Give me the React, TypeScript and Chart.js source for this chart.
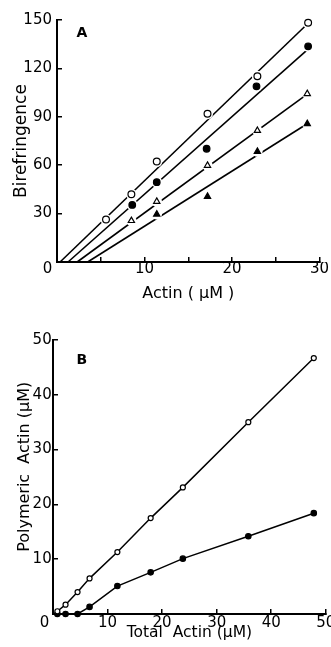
import React, { useEffect, useRef } from "react";
import { Chart, registerables } from "chart.js";

Chart.register(...registerables);

const FONT = "'DejaVu Sans', sans-serif";

// ---------- Panel A: Birefringence vs Actin ----------
const actinOpenCircle = [5.6, 8.5, 11.4, 17.2, 22.9, 28.7];
const birefOpenCircle = [26.3, 42.0, 62.3, 91.9, 115.1, 148.3];
const actinFilledCircle = [8.6, 11.4, 17.1, 22.8, 28.7];
const birefFilledCircle = [35.4, 49.5, 70.2, 108.9, 133.7];
const actinOpenTriangle = [8.5, 11.4, 17.2, 22.9, 28.6];
const birefOpenTriangle = [25.6, 37.5, 59.8, 81.4, 104.3];
const actinFilledTriangle = [11.4, 17.2, 22.9, 28.6];
const birefFilledTriangle = [29.6, 40.6, 68.5, 85.7];

// fitted straight lines (open circle, filled circle, open triangle, filled triangle)
const fitStartX = [0.35, 1.26, 2.3, 3.5];
const fitEndX = [28.7, 28.7, 28.6, 28.6];
const fitEndY = [148, 132, 104, 85.7];

const xTickLabelsA = ["10", "20", "30"];
const yTickLabelsA = ["30", "60", "90", "120", "150"];

// ---------- Panel B: Polymeric vs Total Actin ----------
const totalActinB = [0.8, 2.3, 4.5, 6.7, 11.8, 17.9, 23.8, 35.8, 47.8];
const polymericOpen = [0.5, 1.7, 4.0, 6.5, 11.3, 17.5, 23.1, 35.0, 46.7];
const polymericFilled = [0, 0, 0, 1.3, 5.1, 7.6, 10.1, 14.2, 18.4];

const xTickLabelsB = ["10", "20", "30", "40", "50"];
const yTickLabelsB = ["10", "20", "30", "40", "50"];

const zip = (xs: number[], ys: number[]) => xs.map((x, i) => ({ x, y: ys[i] }));

const cornerPlugin = {
  id: "corner",
  afterDraw(chart: any, _args: any, opts: any) {
    const { ctx, scales } = chart;
    const xs = scales.x;
    const ys = scales.y;
    ctx.save();
    ctx.fillStyle = "#000";
    ctx.font = `15px ${FONT}`;
    ctx.textAlign = "center";
    ctx.textBaseline = "middle";
    ctx.fillText(opts.origin, xs.left + opts.originDx, xs.top + opts.originDy);
    ctx.font = `bold 14px ${FONT}`;
    ctx.fillText(opts.panel, xs.getPixelForValue(opts.panelX), ys.getPixelForValue(opts.panelY));
    ctx.restore();
  },
};

function makeAxis(opts: any) {
  return {
    type: "linear",
    min: opts.min,
    max: opts.max,
    border: { display: true, color: "#000", width: 2 },
    grid: {
      drawOnChartArea: false,
      drawTicks: true,
      tickLength: -5,
      color: "#000",
      lineWidth: 1.5,
    },
    ticks: {
      stepSize: opts.step,
      autoSkip: false,
      maxRotation: 0,
      color: "#000",
      padding: opts.padding,
      font: { family: FONT, size: 15 },
      callback: (v: number) => (opts.labels.includes(String(v)) ? String(v) : ""),
    },
    title: {
      display: true,
      text: opts.title,
      color: "#000",
      font: { family: FONT, size: opts.titleSize },
      padding: opts.titlePadding,
    },
    afterFit: (scale: any) => {
      if (opts.width !== undefined) scale.width = opts.width;
      if (opts.height !== undefined) scale.height = opts.height;
      scale.paddingLeft = 0;
      scale.paddingRight = 0;
      scale.paddingTop = 0;
      scale.paddingBottom = 0;
    },
  };
}

function pointSet(data: any[], style: string, radius: number, fill: string, order: number) {
  return {
    data,
    showLine: false,
    pointStyle: style,
    pointRadius: radius,
    pointBackgroundColor: fill,
    pointBorderColor: "#000",
    pointBorderWidth: 1.2,
    clip: false,
    order,
  };
}

function haloSet(data: any[], radius: number) {
  return {
    data,
    showLine: false,
    pointStyle: "circle",
    pointRadius: radius,
    pointBackgroundColor: "#fff",
    pointBorderColor: "#fff",
    pointBorderWidth: 0,
    clip: false,
    order: 5,
  };
}

function lineSet(data: any[], width: number) {
  return {
    data,
    showLine: true,
    borderColor: "#000",
    borderWidth: width,
    pointRadius: 0,
    fill: false,
    tension: 0,
    clip: false,
    order: 10,
  };
}

export default function App() {
  const refA = useRef<HTMLCanvasElement | null>(null);
  const refB = useRef<HTMLCanvasElement | null>(null);

  useEffect(() => {
    const ptsOC = zip(actinOpenCircle, birefOpenCircle);
    const ptsFC = zip(actinFilledCircle, birefFilledCircle);
    const ptsOT = zip(actinOpenTriangle, birefOpenTriangle);
    const ptsFT = zip(actinFilledTriangle, birefFilledTriangle);
    const fits = fitStartX.map((x0, i) => [
      { x: x0, y: 0 },
      { x: fitEndX[i], y: fitEndY[i] },
    ]);

    const chartA = new Chart(refA.current as HTMLCanvasElement, {
      type: "scatter",
      data: {
        datasets: [
          pointSet(ptsOC, "circle", 3.4, "#fff", 0),
          pointSet(ptsFC, "circle", 3.3, "#000", 0),
          pointSet(ptsOT, "triangle", 3.6, "#fff", 0),
          pointSet(ptsFT, "triangle", 3.6, "#000", 0),
          haloSet(ptsOC, 5.5),
          haloSet(ptsFC, 5.5),
          haloSet(ptsOT, 5.2),
          haloSet(ptsFT, 5.2),
          ...fits.map((f) => lineSet(f, 1.6)),
        ] as any,
      },
      options: {
        responsive: false,
        animation: false,
        events: [],
        layout: { padding: { top: 20, right: 11.5, bottom: 0, left: 0 } },
        plugins: {
          legend: { display: false },
          tooltip: { enabled: false },
          corner: { origin: "0", originDx: -9.5, originDy: 7, panel: "A", panelX: 2.85, panelY: 141.5 },
        } as any,
        scales: {
          x: makeAxis({
            min: 0, max: 30, step: 5, padding: 3, labels: xTickLabelsA,
            title: "Actin ( \u03bcM )", titleSize: 16, titlePadding: { top: 0, bottom: 2 }, height: 43,
          }),
          y: makeAxis({
            min: 0, max: 150, step: 30, padding: 10, labels: yTickLabelsA,
            title: "Birefringence", titleSize: 17, titlePadding: { top: 11.5, bottom: 0 }, width: 57,
          }),
        } as any,
      },
      plugins: [cornerPlugin],
    });

    const ptsBO = zip(totalActinB, polymericOpen);
    const ptsBF = zip(totalActinB, polymericFilled);

    const chartB = new Chart(refB.current as HTMLCanvasElement, {
      type: "scatter",
      data: {
        datasets: [
          pointSet(ptsBO, "circle", 2.5, "#fff", 0),
          pointSet(ptsBF, "circle", 2.7, "#000", 0),
          lineSet(ptsBO, 1.5),
          lineSet(ptsBF, 1.5),
        ] as any,
      },
      options: {
        responsive: false,
        animation: false,
        events: [],
        layout: { padding: { top: 35, right: 4, bottom: 0, left: 0 } },
        plugins: {
          legend: { display: false },
          tooltip: { enabled: false },
          corner: { origin: "0", originDx: -8.5, originDy: 9.3, panel: "B", panelX: 5.3, panelY: 46.2 },
        } as any,
        scales: {
          x: makeAxis({
            min: 0, max: 50, step: 10, padding: 5.3, labels: xTickLabelsB,
            title: "Total  Actin (\u03bcM)", titleSize: 15.5, titlePadding: { top: 0, bottom: 4.5 }, height: 33,
          }),
          y: makeAxis({
            min: 0, max: 50, step: 10, padding: 6.3, labels: yTickLabelsB,
            title: "    Polymeric  Actin (\u03bcM)", titleSize: 16, titlePadding: { top: 15.5, bottom: 0 }, width: 53,
          }),
        } as any,
      },
      plugins: [cornerPlugin],
    });

    return () => {
      chartA.destroy();
      chartB.destroy();
    };
  }, []);

  return (
    <div style={{ position: "fixed", left: 0, top: 0, width: 331, height: 647, background: "#fff" }}>
      <canvas ref={refA} width={331} height={305} style={{ position: "absolute", left: 0, top: 0, width: 331, height: 305 }} />
      <canvas ref={refB} width={331} height={342} style={{ position: "absolute", left: 0, top: 305, width: 331, height: 342 }} />
    </div>
  );
}
